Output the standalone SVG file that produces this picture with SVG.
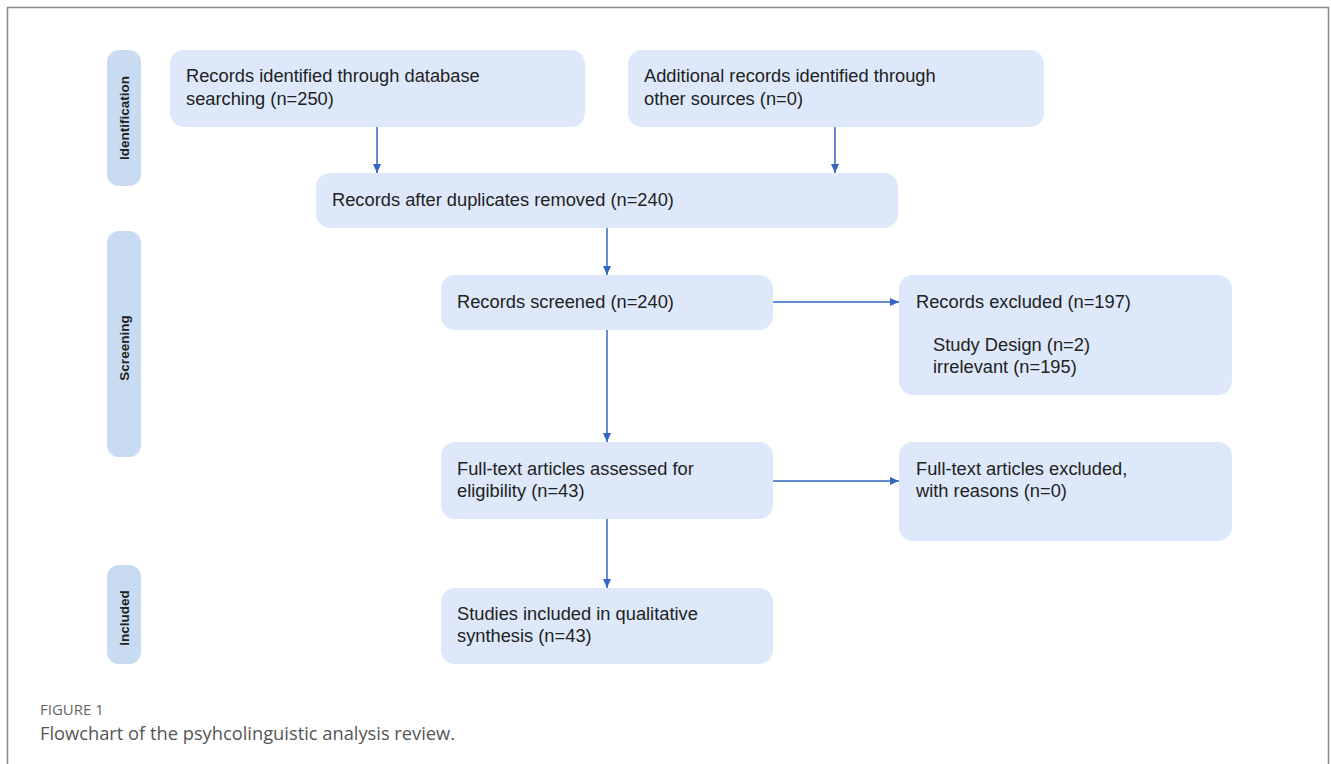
<svg xmlns="http://www.w3.org/2000/svg" width="1331" height="764" viewBox="0 0 1331 764">
<defs>
<marker id="ah" markerWidth="10" markerHeight="10" refX="9" refY="5" orient="auto" markerUnits="userSpaceOnUse">
<path d="M0,1 L9,5 L0,9 Z" fill="#3366c2"/>
</marker>
<style>
.box{fill:#dde9fb;}
.side{fill:#c9dbf1;}
.t{font-family:"Liberation Sans",Arial,sans-serif;font-size:18.3px;fill:#222;}
.s{font-family:"Liberation Sans",Arial,sans-serif;font-size:13.5px;font-weight:bold;fill:#222;}
.c{stroke:#3366c2;stroke-width:1.5;fill:none;marker-end:url(#ah);}
.cap1{font-family:"Open Sans",sans-serif;font-size:15px;fill:#666;}
.cap2{font-family:"Open Sans",sans-serif;font-size:18.3px;fill:#555;}
</style>
</defs>
<rect width="1331" height="764" fill="#fff"/>
<path d="M7.5,770 V7.5 H1328.5 V770" fill="none" stroke="#888" stroke-width="1.5"/>

<g id="lbl-identification"><rect class="side" x="107" y="50" width="34" height="136" rx="12"/><text class="s" transform="translate(129,118) rotate(-90)" text-anchor="middle">Identification</text></g>
<g id="lbl-screening"><rect class="side" x="107" y="231" width="34" height="226" rx="12"/><text class="s" transform="translate(129,348) rotate(-90)" text-anchor="middle">Screening</text></g>
<g id="lbl-included"><rect class="side" x="107" y="565" width="34" height="99" rx="12"/><text class="s" transform="translate(129,618) rotate(-90)" text-anchor="middle">Included</text></g>

<g id="n1"><rect class="box" x="170" y="50" width="415" height="77" rx="14"/><text class="t" x="186" y="82">Records identified through database</text><text class="t" x="186" y="105">searching (n=250)</text></g>
<g id="n2"><rect class="box" x="628" y="50" width="416" height="77" rx="14"/><text class="t" x="644" y="82">Additional records identified through</text><text class="t" x="644" y="105">other sources (n=0)</text></g>
<g id="n3"><rect class="box" x="316" y="173" width="582" height="55" rx="14"/><text class="t" x="332" y="206">Records after duplicates removed (n=240)</text></g>
<g id="n4"><rect class="box" x="441" y="275" width="332" height="55" rx="14"/><text class="t" x="457" y="308">Records screened (n=240)</text></g>
<g id="n5"><rect class="box" x="899" y="275" width="333" height="120" rx="14"/><text class="t" x="916" y="308">Records excluded (n=197)</text><text class="t" x="933" y="351">Study Design (n=2)</text><text class="t" x="933" y="373">irrelevant (n=195)</text></g>
<g id="n6"><rect class="box" x="441" y="442" width="332" height="77" rx="14"/><text class="t" x="457" y="475">Full-text articles assessed for</text><text class="t" x="457" y="497">eligibility (n=43)</text></g>
<g id="n7"><rect class="box" x="899" y="442" width="333" height="99" rx="14"/><text class="t" x="916" y="475">Full-text articles excluded,</text><text class="t" x="916" y="497">with reasons (n=0)</text></g>
<g id="n8"><rect class="box" x="441" y="588" width="332" height="76" rx="14"/><text class="t" x="457" y="620">Studies included in qualitative</text><text class="t" x="457" y="642">synthesis (n=43)</text></g>

<g id="connectors">
<line class="c" x1="377" y1="127" x2="377" y2="173"/>
<line class="c" x1="835" y1="127" x2="835" y2="173"/>
<line class="c" x1="607" y1="228" x2="607" y2="275"/>
<line class="c" x1="607" y1="330" x2="607" y2="442"/>
<line class="c" x1="607" y1="519" x2="607" y2="588"/>
<line class="c" x1="773" y1="302" x2="899" y2="302"/>
<line class="c" x1="773" y1="481" x2="899" y2="481"/>
</g>

<text class="cap1" x="40" y="715">FIGURE 1</text>
<text class="cap2" x="40" y="740">Flowchart of the psyhcolinguistic analysis review.</text>
</svg>
